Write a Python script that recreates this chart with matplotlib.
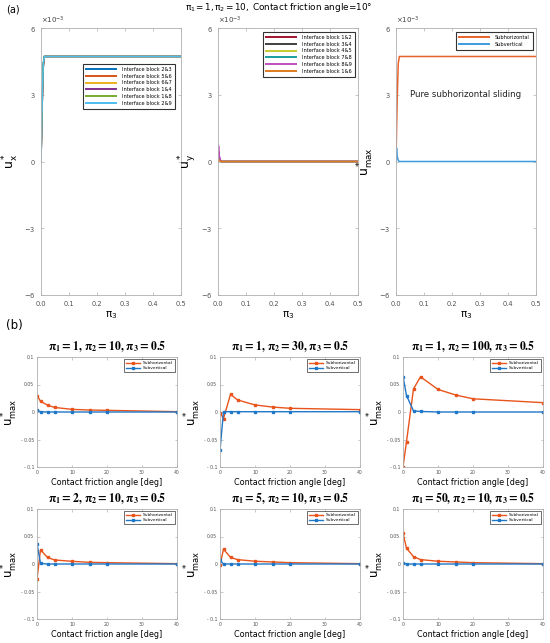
import numpy as np
import matplotlib
matplotlib.use('Agg')
import matplotlib.pyplot as plt
from matplotlib.ticker import ScalarFormatter

plt.rcParams['font.family'] = ['DejaVu Sans']
plt.rcParams['mathtext.default'] = 'regular'

# ---------------- data (a) ----------------
pi3 = [0, 0.002, 0.004, 0.008, 0.012, 0.02, 0.1, 0.2, 0.3, 0.4, 0.5]

ux_labels = ['Interface block 2&3', 'Interface block 5&6', 'Interface block 6&7',
             'Interface block 1&4', 'Interface block 1&8', 'Interface block 2&9']
ux_values = [
    [0, 1.2, 2.4, 4.2, 4.72, 4.72, 4.72, 4.72, 4.72, 4.72, 4.72],
    [0, 1.3, 2.5, 4.3, 4.72, 4.72, 4.72, 4.72, 4.72, 4.72, 4.72],
    [0, 1.2, 2.5, 4.3, 4.72, 4.72, 4.72, 4.72, 4.72, 4.72, 4.72],
    [0, 1.3, 2.6, 4.3, 4.72, 4.72, 4.72, 4.72, 4.72, 4.72, 4.72],
    [0, 1.5, 2.8, 4.4, 4.72, 4.72, 4.72, 4.72, 4.72, 4.72, 4.72],
    [0, 1.4, 2.7, 4.4, 4.72, 4.72, 4.72, 4.72, 4.72, 4.72, 4.72],
]
ux_colors = ['#0072BD', '#D95319', '#EDB120', '#7E2F8E', '#77AC30', '#4DBEEE']

uy_labels = ['Interface block 1&2', 'Interface block 3&4', 'Interface block 4&5',
             'Interface block 7&8', 'Interface block 8&9', 'Interface block 1&6']
uy_values = [
    [0, 0.45, 0.2, 0.05, 0, 0, 0, 0, 0, 0, 0],
    [0, 0.40, 0.2, 0.05, 0, 0, 0, 0, 0, 0, 0],
    [0, 0.30, 0.15, 0.03, 0, 0, 0, 0, 0, 0, 0],
    [0, 0.35, 0.15, 0.03, 0, 0, 0, 0, 0, 0, 0],
    [0, 0.70, 0.30, 0.08, 0, 0, 0, 0, 0, 0, 0],
    [0, 0.10, 0.05, 0.01, 0, 0, 0, 0, 0, 0, 0],
]
uy_colors = ['#A2142F', '#404040', '#C9C930', '#1A9E9E', '#BF4FBF', '#E07B20']

umax_sh = [0, 1.4, 2.7, 4.4, 4.72, 4.72, 4.72, 4.72, 4.72, 4.72, 4.72]
umax_sv = [0, 0.60, 0.25, 0.05, 0, 0, 0, 0, 0, 0, 0]

# ---------------- data (b) ----------------
phi = [0, 1, 3, 5, 10, 15, 20, 40]
b_titles = [r'$\mathbf{\pi_1 = 1,\,\pi_2 = 10,\,\pi_3 = 0.5}$',
            r'$\mathbf{\pi_1 = 1,\,\pi_2 = 30,\,\pi_3 = 0.5}$',
            r'$\mathbf{\pi_1 = 1,\,\pi_2 = 100,\,\pi_3 = 0.5}$',
            r'$\mathbf{\pi_1 = 2,\,\pi_2 = 10,\,\pi_3 = 0.5}$',
            r'$\mathbf{\pi_1 = 5,\,\pi_2 = 10,\,\pi_3 = 0.5}$',
            r'$\mathbf{\pi_1 = 50,\,\pi_2 = 10,\,\pi_3 = 0.5}$']
sub_h = [
    [0.030, 0.0195, 0.0125, 0.0083, 0.0048, 0.0036, 0.003, 0.0006],
    [-0.001, -0.012, 0.032, 0.022, 0.0128, 0.009, 0.0067, 0.0043],
    [-0.100, -0.054, 0.042, 0.064, 0.041, 0.031, 0.024, 0.017],
    [-0.027, 0.0256, 0.012, 0.0073, 0.0049, 0.003, 0.0024, 0.0006],
    [-0.002, 0.027, 0.012, 0.008, 0.005, 0.0037, 0.0024, 0.0006],
    [0.056, 0.0287, 0.0134, 0.008, 0.005, 0.0037, 0.0024, 0.0006],
]
sub_v = [
    [0.003, 0.0005, 0, 0, 0, 0, 0, 0],
    [-0.0695, 0.0006, 0.0005, 0.0005, 0.0005, 0.0005, 0.0005, 0.0005],
    [0.0645, 0.030, 0.002, 0.001, 0, 0, 0, 0],
    [0.037, 0.001, 0, 0, 0, 0, 0, 0],
    [0.0067, 0, 0, 0, 0, 0, 0, 0],
    [0.0024, 0, 0, 0, 0, 0, 0, 0],
]

W, H = 550, 643
fig = plt.figure(figsize=(W / 100, H / 100), dpi=100)


def px_axes(left, top, width, height):
    return fig.add_axes([left / W, 1 - (top + height) / H, width / W, height / H])


def matlab_style(ax, fs, pad=2):
    for s in ax.spines.values():
        s.set_color('#b0b0b0')
        s.set_linewidth(0.6)
    ax.tick_params(direction='in', top=True, right=True, length=2.5, width=0.5,
                   color='#b0b0b0', labelsize=fs, labelcolor='#505050', pad=pad)


# ---------- (a) ----------
a_left = [41, 218, 396]
a_ax = [px_axes(l, 28, 140, 267) for l in a_left]

for vals, c, lab in zip(ux_values, ux_colors, ux_labels):
    a_ax[0].plot(pi3, np.array(vals) * 1e-3, color=c, lw=1.1, label=lab)
for vals, c, lab in zip(uy_values, uy_colors, uy_labels):
    a_ax[1].plot(pi3, np.array(vals) * 1e-3, color=c, lw=1.1, label=lab)
a_ax[2].plot(pi3, np.array(umax_sh) * 1e-3, color='#E8622A', lw=1.1, label='Subhorizontal')
a_ax[2].plot(pi3, np.array(umax_sv) * 1e-3, color='#3D9BE0', lw=1.1, label='Subvertical')
a_ax[2].text(0.25, 3e-3, 'Pure subhorizontal sliding', ha='center', va='center', fontsize=6.2,
             color='#222222')

ylabs = [r'$u^*_x$', r'$u^*_y$', r'$u^*_{max}$']
for ax, yl in zip(a_ax, ylabs):
    matlab_style(ax, 4.8, pad=4)
    ax.set_xlim(0, 0.5)
    ax.set_ylim(-6e-3, 6e-3)
    ax.set_yticks([-6e-3, -3e-3, 0, 3e-3, 6e-3])
    ax.set_xticks([0, 0.1, 0.2, 0.3, 0.4, 0.5])
    fmt = ScalarFormatter(useMathText=True)
    fmt.set_powerlimits((-3, -3))
    ax.yaxis.set_major_formatter(fmt)
    ax.yaxis.get_offset_text().set_fontsize(5)
    ax.yaxis.get_offset_text().set_color('#404040')
    ax.set_xlabel(r'$\pi_3$', fontsize=7.5, math_fontfamily='stix', labelpad=2)
    ax.set_ylabel(yl, fontsize=9, labelpad=2)

leg_kw = dict(fontsize=3.6, frameon=True, fancybox=False, edgecolor='black',
              handlelength=6, borderpad=0.6, labelspacing=0.35, handletextpad=1.2)
l0 = a_ax[0].legend(loc='upper right', bbox_to_anchor=(0.975, 0.875), **leg_kw)
l1 = a_ax[1].legend(loc='upper right', bbox_to_anchor=(0.995, 0.995), **leg_kw)
l2 = a_ax[2].legend(loc='upper right', bbox_to_anchor=(0.995, 0.995), **leg_kw)
for lg in (l0, l1, l2):
    lg.get_frame().set_linewidth(0.8)
    for ln in lg.get_lines():
        ln.set_linewidth(1.4)

fig.text(279 / W, 1 - 8 / H, r'$\pi_1 = 1, \pi_2 = 10,$ Contact friction angle=10°',
         ha='center', va='center', fontsize=6.4, math_fontfamily='stix')
fig.text(6 / W, 1 - 9 / H, '(a)', ha='left', va='center', fontsize=7)
fig.text(6 / W, 1 - 326 / H, '(b)', ha='left', va='center', fontsize=8.5)

# ---------- (b) ----------
b_left = [37, 220, 403]
b_top = [357, 509]
for i in range(6):
    r, c = divmod(i, 3)
    ax = px_axes(b_left[c], b_top[r], 140, 110)
    ax.plot(phi, sub_h[i], color='#E8541C', lw=1.0, marker='s', ms=2.0, label='Subhorizontal')
    ax.plot(phi, sub_v[i], color='#1F77C8', lw=1.0, marker='s', ms=2.0, label='Subvertical')
    matlab_style(ax, 3.3)
    ax.set_xlim(0, 40)
    ax.set_ylim(-0.1, 0.1)
    ax.set_xticks([0, 10, 20, 30, 40])
    ax.set_yticks([-0.1, -0.05, 0, 0.05, 0.1])
    ax.set_yticklabels(['- 0.1', '- 0.05', '0', '0.05', '0.1'])
    ax.tick_params(length=1.8)
    ax.set_xlabel('Contact friction angle [deg]', fontsize=5.8, labelpad=2)
    ax.set_ylabel(r'$u^*_{max}$', fontsize=8.5, labelpad=1)
    ax.set_title(b_titles[i], fontsize=8.4, math_fontfamily='stix', pad=5)
    lg = ax.legend(loc='upper right', fontsize=3.2, frameon=True, fancybox=False,
                   edgecolor='black', handlelength=3.2, borderpad=0.4, labelspacing=0.25,
                   handletextpad=0.6, markerscale=0.8)
    lg.get_frame().set_linewidth(0.5)

fig.savefig('out.png', dpi=100)
